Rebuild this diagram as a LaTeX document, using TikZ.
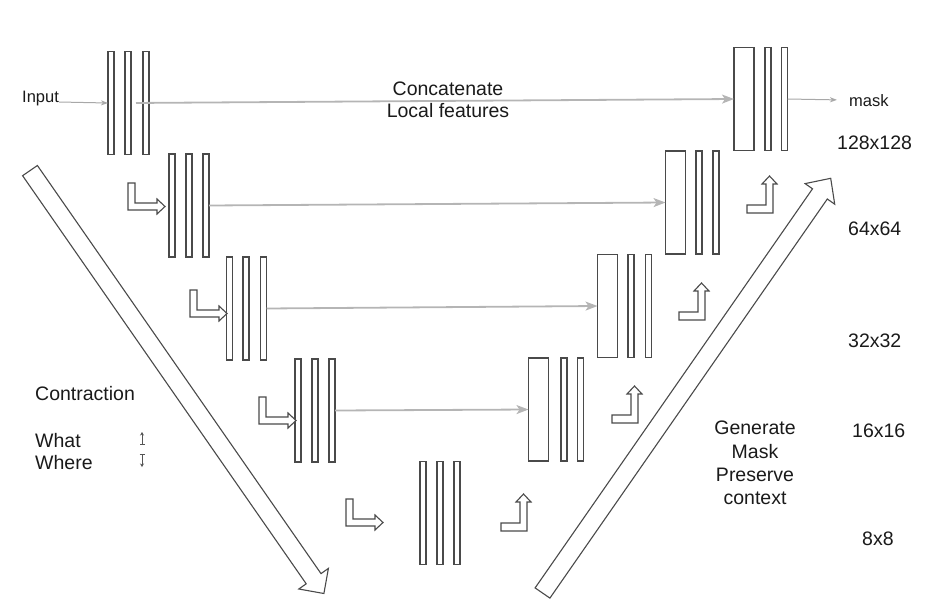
\documentclass[tikz,border=0pt]{standalone}
\usepackage{fontspec}
\setmainfont{Liberation Sans}
\usetikzlibrary{arrows.meta}
\definecolor{barc}{HTML}{4A4A4A}
\definecolor{connc}{HTML}{B5B5B5}
\definecolor{thinc}{HTML}{A8A8A8}
\definecolor{txtc}{HTML}{1A1A1A}
\definecolor{smallc}{HTML}{555555}
\tikzset{
  bar/.style={draw=barc, line width=1.1pt, fill=white, minimum width=6pt, minimum height=103pt, inner sep=0pt, outer sep=0pt},
  wbar/.style={bar, minimum width=20pt},
  conn/.style={draw=connc, line width=1.8pt, -{Stealth[length=12pt,width=9pt,inset=3pt]}},
  thinarrow/.style={draw=thinc, line width=1pt, -{Stealth[length=7pt,width=5pt,inset=2pt]}},
  lbl/.style={font=\fontsize{19.5}{22}\selectfont, text=txtc, inner sep=0pt, anchor=base},
  slbl/.style={font=\fontsize{16.5}{19}\selectfont, text=txtc, inner sep=0pt},
  shapeline/.style={draw=barc, line width=1.1pt, fill=white, line join=miter},
  bigarrow/.style={draw=barc, line width=1.1pt, fill=white, line join=miter},
  smallarrow/.style={draw=smallc, line width=0.8pt, {Bar[width=5pt]}-{Stealth[length=3.5pt,width=4pt]}},
  pics/rightL/.style={code={
    \draw[shapeline] (0,0) -- (7,0) -- (7,20) -- (29,20) -- (29,16) -- (37,23.5) -- (29,31) -- (29,27) -- (0,27) -- cycle;}},
  pics/upL/.style={code={
    \draw[shapeline] (0,0) -- (26,0) -- (26,-29) -- (30,-29) -- (22.5,-37) -- (15,-29) -- (19,-29) -- (19,-8) -- (0,-8) -- cycle;}},
}
\begin{document}
\begin{tikzpicture}[x=1pt,y=-1pt]
\useasboundingbox (0,0) rectangle (941,608);

% big arrows
\draw[bigarrow] (22.6,175.7) -- (37.4,165.5) -- (321.0,573.6) -- (328.4,568.4) -- (323.9,593.5) -- (298.8,589.0) -- (306.2,583.8) -- cycle;
\draw[bigarrow] (535.1,587.9) -- (549.9,598.1) -- (827.3,199.0) -- (834.7,204.2) -- (830.7,178.3) -- (805.1,183.6) -- (812.5,188.8) -- cycle;

% left (contracting) blocks
\node[bar] (l0a) at (111,103) {};
\node[bar] (l0b) at (128,103) {};
\node[bar] (l0c) at (146,103) {};
\node[bar] (l1a) at (172,205.5) {};
\node[bar] (l1b) at (189,205.5) {};
\node[bar] (l1c) at (206,205.5) {};
\node[bar] (l2a) at (229.5,308.5) {};
\node[bar] (l2b) at (246,308.5) {};
\node[bar] (l2c) at (263.5,308.5) {};
\node[bar] (l3a) at (298,410.5) {};
\node[bar] (l3b) at (315,410.5) {};
\node[bar] (l3c) at (332,410.5) {};
\node[bar] (l4a) at (423,513) {};
\node[bar] (l4b) at (440,513) {};
\node[bar] (l4c) at (457,513) {};

% right (expanding) blocks
\node[wbar] (r0w) at (744,99) {};
\node[bar] (r0b) at (768,99) {};
\node[bar] (r0c) at (784.5,99) {};
\node[wbar] (r1w) at (675.5,202.5) {};
\node[bar] (r1b) at (699,202.5) {};
\node[bar] (r1c) at (716,202.5) {};
\node[wbar] (r2w) at (607.5,306) {};
\node[bar] (r2b) at (631,306) {};
\node[bar] (r2c) at (648.5,306) {};
\node[wbar] (r3w) at (538.5,409.5) {};
\node[bar] (r3b) at (564,409.5) {};
\node[bar] (r3c) at (580.5,409.5) {};

% skip connections
\draw[conn, shorten <=5pt] (l0b.east) -- (r0w.west);
\draw[conn] (l1c.east) -- (r1w.west);
\draw[conn] (l2c.east) -- (r2w.west);
\draw[conn] (l3c.east) -- (r3w.west);

% input / output
\node[slbl, anchor=base west] (input) at (22,102) {Input};
\draw[thinarrow] (input.base east) -- (l0a.west);
\node[slbl, anchor=base west] (mask) at (849,106) {mask};
\draw[thinarrow, shorten >=12pt] (r0c.east) -- (mask.west);

% L arrows
\pic at (128,183) {rightL};
\pic at (190,290) {rightL};
\pic at (259,397) {rightL};
\pic at (346,499) {rightL};
\pic at (747,213) {upL};
\pic at (679,320) {upL};
\pic at (612,423) {upL};
\pic at (501,531) {upL};

% labels
\node[lbl] (concat) at (448,95) {Concatenate};
\node[lbl] (localf) at (448,117) {Local features};
\node[lbl, anchor=base west] (contr) at (35,400) {Contraction};
\node[lbl, anchor=base west] (what) at (35,447) {What};
\node[lbl, anchor=base west] (where) at (35,469) {Where};
\coordinate (wa0) at (142,445);
\coordinate (wa1) at (142,432);
\coordinate (wb0) at (142,454);
\coordinate (wb1) at (142,467);
\draw[smallarrow] (wa0) -- (wa1);
\draw[smallarrow] (wb0) -- (wb1);
\node[lbl] (gen) at (755,434) {Generate};
\node[lbl] (gmask) at (755,458) {Mask};
\node[lbl] (pres) at (755,481) {Preserve};
\node[lbl] (ctx) at (755,504) {context};
\node[lbl, anchor=base west] (s128) at (837,149) {128x128};
\node[lbl, anchor=base west] (s64) at (848,235) {64x64};
\node[lbl, anchor=base west] (s32) at (848,347) {32x32};
\node[lbl, anchor=base west] (s16) at (852,437) {16x16};
\node[lbl, anchor=base west] (s8) at (862,545) {8x8};
\end{tikzpicture}
\end{document}
